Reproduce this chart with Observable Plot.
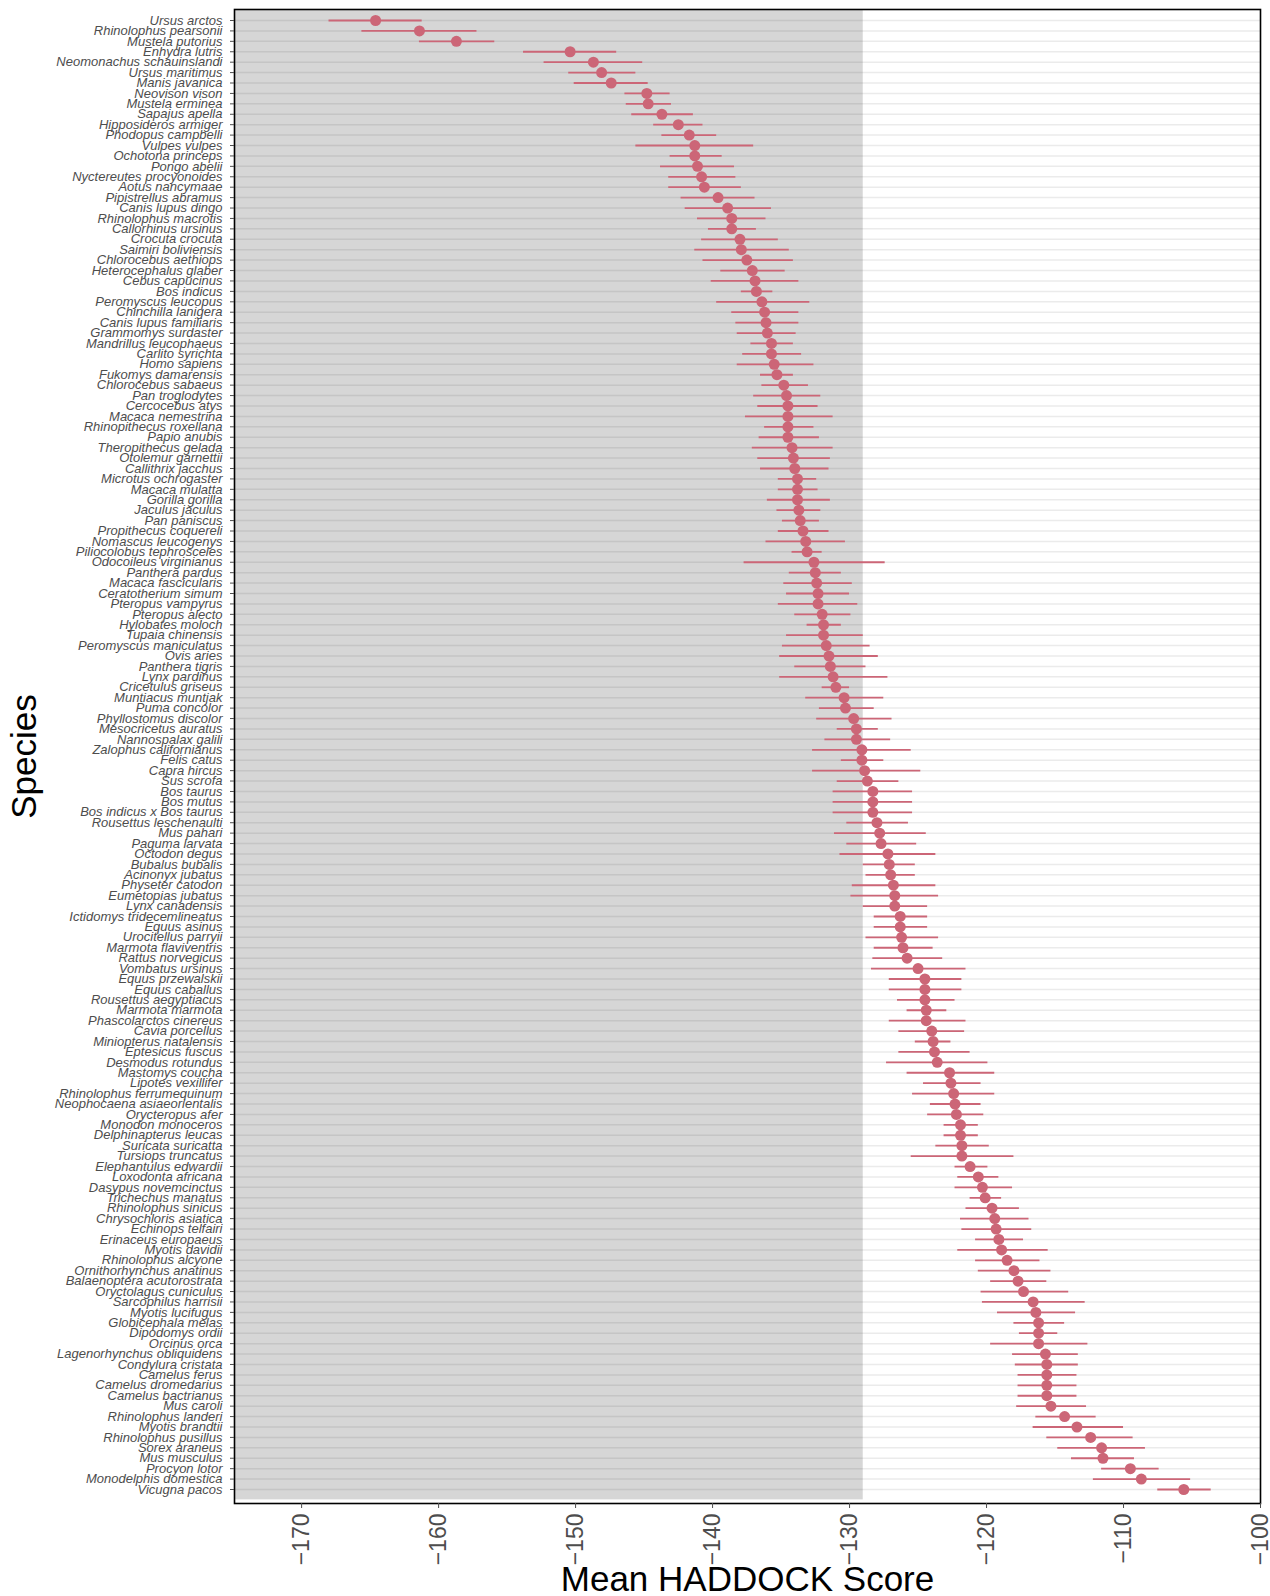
<!DOCTYPE html>
<html>
<head>
<meta charset="utf-8">
<script src="https://cdn.jsdelivr.net/npm/d3@7"></script>
<script src="https://cdn.jsdelivr.net/npm/@observablehq/plot@0.6"></script>
<style>
  html, body { margin: 0; padding: 0; background: #fff; overflow: hidden; }
  #chart svg { display: block; }
</style>
</head>
<body>
<div id="chart"></div>
<script>
const species = [
  "Ursus arctos","Rhinolophus pearsonii","Mustela putorius","Enhydra lutris","Neomonachus schauinslandi",
  "Ursus maritimus","Manis javanica","Neovison vison","Mustela erminea","Sapajus apella",
  "Hipposideros armiger","Phodopus campbelli","Vulpes vulpes","Ochotona princeps","Pongo abelii",
  "Nyctereutes procyonoides","Aotus nancymaae","Pipistrellus abramus","Canis lupus dingo","Rhinolophus macrotis",
  "Callorhinus ursinus","Crocuta crocuta","Saimiri boliviensis","Chlorocebus aethiops","Heterocephalus glaber",
  "Cebus capucinus","Bos indicus","Peromyscus leucopus","Chinchilla lanigera","Canis lupus familiaris",
  "Grammomys surdaster","Mandrillus leucophaeus","Carlito syrichta","Homo sapiens","Fukomys damarensis",
  "Chlorocebus sabaeus","Pan troglodytes","Cercocebus atys","Macaca nemestrina","Rhinopithecus roxellana",
  "Papio anubis","Theropithecus gelada","Otolemur garnettii","Callithrix jacchus","Microtus ochrogaster",
  "Macaca mulatta","Gorilla gorilla","Jaculus jaculus","Pan paniscus","Propithecus coquereli",
  "Nomascus leucogenys","Piliocolobus tephrosceles","Odocoileus virginianus","Panthera pardus","Macaca fascicularis",
  "Ceratotherium simum","Pteropus vampyrus","Pteropus alecto","Hylobates moloch","Tupaia chinensis",
  "Peromyscus maniculatus","Ovis aries","Panthera tigris","Lynx pardinus","Cricetulus griseus",
  "Muntiacus muntjak","Puma concolor","Phyllostomus discolor","Mesocricetus auratus","Nannospalax galili",
  "Zalophus californianus","Felis catus","Capra hircus","Sus scrofa","Bos taurus",
  "Bos mutus","Bos indicus x Bos taurus","Rousettus leschenaulti","Mus pahari","Paguma larvata",
  "Octodon degus","Bubalus bubalis","Acinonyx jubatus","Physeter catodon","Eumetopias jubatus",
  "Lynx canadensis","Ictidomys tridecemlineatus","Equus asinus","Urocitellus parryii","Marmota flaviventris",
  "Rattus norvegicus","Vombatus ursinus","Equus przewalskii","Equus caballus","Rousettus aegyptiacus",
  "Marmota marmota","Phascolarctos cinereus","Cavia porcellus","Miniopterus natalensis","Eptesicus fuscus",
  "Desmodus rotundus","Mastomys coucha","Lipotes vexillifer","Rhinolophus ferrumequinum","Neophocaena asiaeorientalis",
  "Orycteropus afer","Monodon monoceros","Delphinapterus leucas","Suricata suricatta","Tursiops truncatus",
  "Elephantulus edwardii","Loxodonta africana","Dasypus novemcinctus","Trichechus manatus","Rhinolophus sinicus",
  "Chrysochloris asiatica","Echinops telfairi","Erinaceus europaeus","Myotis davidii","Rhinolophus alcyone",
  "Ornithorhynchus anatinus","Balaenoptera acutorostrata","Oryctolagus cuniculus","Sarcophilus harrisii","Myotis lucifugus",
  "Globicephala melas","Dipodomys ordii","Orcinus orca","Lagenorhynchus obliquidens","Condylura cristata",
  "Camelus ferus","Camelus dromedarius","Camelus bactrianus","Mus caroli","Rhinolophus landeri",
  "Myotis brandtii","Rhinolophus pusillus","Sorex araneus","Mus musculus","Procyon lotor",
  "Monodelphis domestica","Vicugna pacos"
];

const meanScore = [
  -164.6,-161.4,-158.7,-150.4,-148.7,
  -148.1,-147.4,-144.8,-144.7,-143.7,
  -142.5,-141.7,-141.3,-141.3,-141.1,
  -140.8,-140.6,-139.6,-138.9,-138.6,
  -138.6,-138.0,-137.9,-137.5,-137.1,
  -136.9,-136.8,-136.4,-136.2,-136.1,
  -136.0,-135.7,-135.7,-135.5,-135.3,
  -134.8,-134.6,-134.5,-134.5,-134.5,
  -134.5,-134.2,-134.1,-134.0,-133.8,
  -133.8,-133.8,-133.7,-133.6,-133.4,
  -133.2,-133.1,-132.6,-132.5,-132.4,
  -132.3,-132.3,-132.0,-131.9,-131.9,
  -131.7,-131.5,-131.4,-131.2,-131.0,
  -130.4,-130.3,-129.7,-129.5,-129.5,
  -129.1,-129.1,-128.9,-128.7,-128.3,
  -128.3,-128.3,-128.0,-127.8,-127.7,
  -127.2,-127.1,-127.0,-126.8,-126.7,
  -126.7,-126.3,-126.3,-126.2,-126.1,
  -125.8,-125.0,-124.5,-124.5,-124.5,
  -124.4,-124.4,-124.0,-123.9,-123.8,
  -123.6,-122.7,-122.6,-122.4,-122.3,
  -122.2,-121.9,-121.9,-121.8,-121.8,
  -121.2,-120.6,-120.3,-120.1,-119.6,
  -119.4,-119.3,-119.1,-118.9,-118.5,
  -118.0,-117.7,-117.3,-116.6,-116.4,
  -116.2,-116.2,-116.2,-115.7,-115.6,
  -115.6,-115.6,-115.6,-115.3,-114.3,
  -113.4,-112.4,-111.6,-111.5,-109.5,
  -108.7,-105.6
];

const lowerCI = [
  -168.0,-165.6,-161.4,-153.8,-152.3,
  -150.5,-150.1,-146.4,-146.3,-145.9,
  -144.3,-143.7,-145.6,-143.1,-143.8,
  -143.2,-143.2,-142.3,-142.0,-141.1,
  -140.3,-140.8,-141.3,-140.7,-139.4,
  -140.1,-137.9,-139.7,-138.6,-138.3,
  -138.2,-137.2,-137.8,-138.2,-136.5,
  -136.4,-137.0,-136.7,-137.6,-136.2,
  -136.6,-137.1,-136.7,-136.5,-135.2,
  -135.2,-136.0,-135.3,-134.9,-135.2,
  -136.1,-134.2,-137.7,-134.4,-134.8,
  -134.6,-135.2,-134.0,-133.1,-134.6,
  -134.9,-135.1,-134.0,-135.1,-132.0,
  -133.2,-132.2,-132.4,-130.9,-131.8,
  -132.7,-130.6,-132.7,-130.9,-131.2,
  -131.2,-131.2,-130.2,-131.1,-130.2,
  -130.7,-129.0,-128.8,-129.8,-129.9,
  -129.0,-128.2,-128.2,-128.8,-128.2,
  -128.3,-128.4,-127.1,-127.1,-126.5,
  -125.8,-127.1,-126.4,-125.2,-126.4,
  -127.3,-125.8,-124.6,-125.4,-124.1,
  -124.3,-123.1,-123.1,-123.7,-125.5,
  -122.3,-122.1,-122.3,-121.2,-121.5,
  -121.9,-121.8,-120.8,-122.1,-120.8,
  -120.6,-119.7,-120.4,-120.3,-119.2,
  -118.0,-117.6,-119.7,-118.1,-117.9,
  -117.7,-117.7,-117.7,-117.8,-116.4,
  -116.6,-115.6,-114.8,-113.8,-111.6,
  -112.2,-107.5
];

const upperCI = [
  -161.2,-157.2,-155.9,-147.0,-145.1,
  -145.6,-144.7,-143.1,-143.0,-141.4,
  -140.7,-139.7,-137.0,-139.3,-138.4,
  -138.3,-137.9,-136.9,-135.7,-136.1,
  -136.8,-135.2,-134.4,-134.1,-134.7,
  -133.7,-135.6,-132.9,-133.7,-133.7,
  -133.9,-134.1,-133.5,-132.6,-134.1,
  -133.0,-132.1,-132.3,-131.2,-132.6,
  -132.2,-131.2,-131.4,-131.5,-132.4,
  -132.3,-131.4,-132.1,-132.2,-131.5,
  -130.3,-132.0,-127.4,-130.6,-129.8,
  -130.0,-129.4,-129.9,-130.6,-129.0,
  -128.5,-127.9,-128.8,-127.2,-130.0,
  -127.5,-128.2,-126.9,-127.9,-127.0,
  -125.5,-127.5,-124.8,-126.4,-125.4,
  -125.4,-125.4,-125.7,-124.4,-125.1,
  -123.7,-125.2,-125.2,-123.7,-123.5,
  -124.3,-124.3,-124.3,-123.5,-123.9,
  -123.2,-121.5,-121.8,-121.8,-122.3,
  -122.9,-121.5,-121.6,-122.6,-121.2,
  -119.9,-119.4,-120.4,-119.4,-120.4,
  -120.2,-120.6,-120.6,-119.8,-118.0,
  -119.9,-119.1,-118.1,-118.9,-117.6,
  -116.9,-116.7,-117.3,-115.5,-116.1,
  -115.3,-115.6,-114.0,-112.8,-113.5,
  -114.3,-114.8,-112.6,-113.3,-113.3,
  -113.4,-113.4,-113.4,-112.7,-112.0,
  -110.0,-109.3,-108.4,-109.2,-107.4,
  -105.1,-103.6
];

const xTicks = [-170, -160, -150, -140, -130, -120, -110, -100];
const shadeLimit = -129;
const xDomain = [-174.9, -100];

const rows = species.map((s, i) => ({species: s, mean: meanScore[i], lo: lowerCI[i], hi: upperCI[i]}));

const W = 1270, H = 1596;
const mL = 234, mR = 10, mT = 9, mB = 93;
const firstRow = 20, lastRow = 1489;

const accent = "#cc6677";

const chart = Plot.plot({
  width: W,
  height: H,
  marginLeft: mL,
  marginRight: mR,
  marginTop: mT,
  marginBottom: mB,
  style: {fontFamily: "'Liberation Sans', Arial, Helvetica, sans-serif", background: "#fff", overflow: "visible"},
  x: {domain: xDomain, ticks: xTicks, label: null},
  y: {type: "point", domain: species, range: [firstRow, lastRow], padding: 0, label: null},
  marks: [
    Plot.gridY(species, {stroke: "#ebebeb", strokeOpacity: 1, strokeWidth: 1.5}),
    Plot.rect([0], {x1: xDomain[0], x2: shadeLimit, fill: "#000", fillOpacity: 0.16, insetTop: 0.6, insetBottom: 3.6}),
    Plot.ruleY(rows, {y: "species", x1: "lo", x2: "hi", stroke: accent, strokeWidth: 1.8}),
    Plot.dot(rows, {x: "mean", y: "species", r: 5.5, fill: accent, stroke: "none"}),
    Plot.frame({stroke: "#000", strokeWidth: 1.6}),
    Plot.axisY({tickSize: 4, tickPadding: 8, fontSize: 13, fontStyle: "italic", color: "#4d4d4d", label: null}),
    Plot.axisX({ticks: xTicks, tickSize: 5, tickPadding: 5, tickRotate: -90, fontSize: 23, color: "#4d4d4d", label: null}),
    Plot.text(["Mean HADDOCK Score"], {frameAnchor: "bottom", dy: 87, lineAnchor: "bottom", textAnchor: "middle", fontSize: 35, fill: "#000"}),
    Plot.text(["Species"], {frameAnchor: "left", dx: -210, rotate: -90, textAnchor: "middle", fontSize: 35, fill: "#000"})
  ]
});

document.getElementById("chart").appendChild(chart);
</script>
</body>
</html>
